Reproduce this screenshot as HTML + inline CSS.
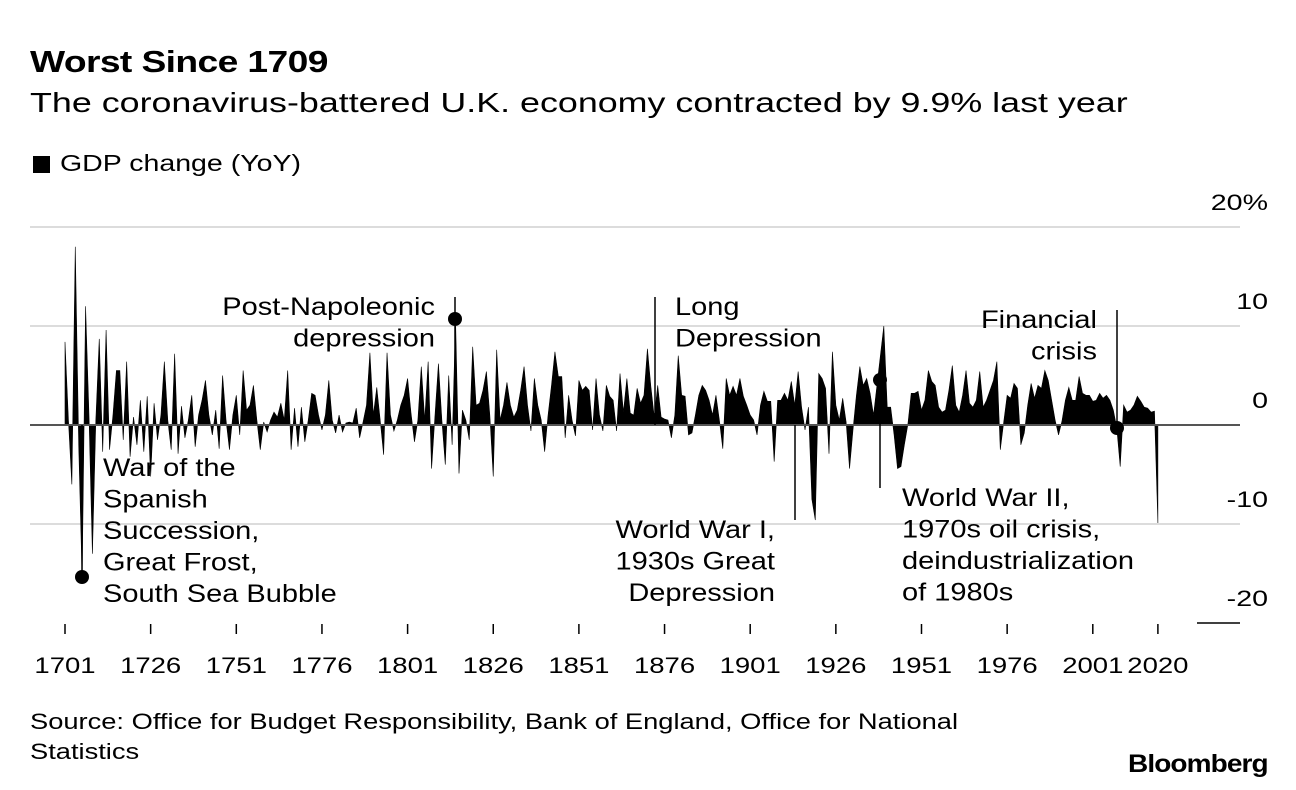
<!DOCTYPE html>
<html><head><meta charset="utf-8">
<style>
body{margin:0;background:#fff;font-family:"Liberation Sans",Arial,sans-serif;color:#000;}
#wrap{position:relative;width:1296px;height:790px;overflow:hidden;}
.t{position:absolute;white-space:nowrap;transform-origin:left top;}
</style></head>
<body>
<div id="wrap">
<div class="t" style="left:30px;top:44px;font-size:31px;font-weight:bold;letter-spacing:-0.5px;transform:scaleX(1.2);">Worst Since 1709</div>
<div class="t" style="left:30px;top:87px;font-size:28px;transform:scaleX(1.28);">The coronavirus-battered U.K. economy contracted by 9.9% last year</div>
<div style="position:absolute;left:33px;top:156px;width:17px;height:17px;background:#000;"></div>
<div class="t" style="left:60px;top:150px;font-size:23px;transform:scaleX(1.24);">GDP change (YoY)</div>
<svg id="chart" width="1296" height="790" style="position:absolute;left:0;top:0;"></svg>
<div class="t" style="left:30px;top:707px;font-size:22px;line-height:30px;transform:scaleX(1.24);">Source: Office for Budget Responsibility, Bank of England, Office for National<br>Statistics</div>
<div class="t" style="left:1128px;top:750px;font-size:25px;font-weight:bold;letter-spacing:-0.8px;transform:scaleX(1.12);">Bloomberg</div>
</div>
<script>
const startYear = 1701;
const gdpChange = [
8.4,0.5,-6,18,-2,-15.5,12,1,-13,0.5,8.7,-2.7,9.6,-2.5,1,5.5,5.5,-1.5,6.4,-3.2,
0.8,-2,2.5,-2.7,2.9,-5.2,2.2,-1.5,1,6.4,0.5,-2.5,7.2,-2.9,1.9,-1.3,0.5,3,-2.2,1,
2.5,4.5,1,-1,1.5,-2.4,5,0.5,-2.5,1,3,-1,5.5,1.5,2,4,0.5,-2.5,0.3,-0.7,
0.5,1.3,0.8,2.2,0.5,5.5,-2.5,1.7,-2.2,1.8,-1.7,0.5,3.2,3,1,-0.5,1,4.5,0.5,-0.8,
1,-0.7,0.2,0.3,0.2,1.7,-1.3,0.3,2,7.3,1,3.8,0.5,-3,7.3,1,-0.6,0.5,2,3,
4.7,1.2,-1.7,0.5,5.9,0.5,6.4,-4.4,1,6.2,0.5,-4,5,-2,10.6,-4.9,1.5,0.5,-1.5,7.9,
2,2.2,3.5,5.4,1,-5.2,7.6,0.5,2,4.3,2,0.8,1.5,3.5,5.9,2,-0.6,4.7,2,0.5,
-2.7,1,4,7.4,4.9,4.9,-1.3,3,0.5,-1.1,4.5,3.5,3.9,3.5,-0.5,4.7,1,-0.6,4,2.9,
2.5,-0.6,5.2,1.3,4.7,1.2,1,3.7,2.2,3,7.7,3.9,0.8,4,0.8,0.6,0.5,-1.3,1,7,
3,2.9,-1,-0.8,1,3,4,3.5,2.5,1,3,0.5,-2.4,4.7,3,3.9,3,4.7,2.9,2,
1,0.5,-1,2,3.4,2.4,2.4,-3.7,2.5,2.5,3.2,2.5,4.4,2,5.4,1.8,-0.5,1.8,-7.5,-9.6,
5.2,4.7,3.7,-2.9,7.4,2,0.5,2.7,0.3,-4.4,-0.5,3,5.9,4,4.7,3.2,1,4,7,10,
1.8,1.8,-1,-4.4,-4.2,-2,0,3.2,3.2,3.4,1.5,2.5,5.5,4.4,4,1.8,1.3,1.5,3.5,6,
2,1.3,3,5.5,2.2,1.8,2.5,5.4,1.8,2.5,3.5,4.5,6.4,-2.5,0.3,3,2.7,4.2,3.7,-2,
-0.8,2,4.2,2.7,4,3.7,5.5,4.5,2.5,0.5,-1,0.4,2.5,3.8,2.5,2.5,4.9,3.2,3,3,
2.4,2.5,3.2,2.7,3,2.5,1.5,-0.3,-4.2,2,1.3,1.5,2,2.9,2.4,1.8,1.7,1.3,1.4,-9.9
];
const yTicks = [20,10,0,-10,-20];
const yTickLabels = ["20%","10","0","-10","-20"];
const xTickYears = [1701,1726,1751,1776,1801,1826,1851,1876,1901,1926,1951,1976,2001,2020];

const NS = "http://www.w3.org/2000/svg";
const svg = document.getElementById("chart");
const x = yr => 65 + (yr - 1701) * 3.426;
const y = v => 425 - v * 9.9;
function mk(tag, attrs, parent){
  const e = document.createElementNS(NS, tag);
  for (const k in attrs) e.setAttribute(k, attrs[k]);
  (parent || svg).appendChild(e);
  return e;
}
function sx(px, py, s){ return "translate(" + px + "," + py + ") scale(" + s + ",1) translate(" + (-px) + "," + (-py) + ")"; }
// gridlines
yTicks.forEach((t, i) => {
  let g;
  if (t === -20) {
    g = mk("line", {x1:1197, x2:1240, y1:y(t), y2:y(t), stroke:"#000", "stroke-width":1.5});
  } else if (t === 0) {
    g = null;
  } else {
    g = mk("line", {x1:30, x2:1240, y1:y(t), y2:y(t), stroke:"#dcdcdc", "stroke-width":2});
  }
  if (g) {
    
    
  }
  const lab = mk("text", {x:1268, y:y(t) - 17, "text-anchor":"end", "font-size":22, "font-family":"Liberation Sans, sans-serif", transform:sx(1268, y(t) - 17, 1.3)});
  lab.textContent = yTickLabels[i];
  
  
});
// area
let d = "M" + x(startYear) + "," + y(0);
gdpChange.forEach((v, i) => { d += " L" + x(startYear + i).toFixed(2) + "," + y(v).toFixed(2); });
d += " L" + x(startYear + gdpChange.length - 1) + "," + y(0) + " Z";
const area = mk("path", {d:d, fill:"#000", stroke:"#000", "stroke-width":0.6, "stroke-linejoin":"miter"});


// zero line
const zl = mk("line", {x1:30, x2:1240, y1:y(0), y2:y(0), stroke:"#555", "stroke-width":2});


// x ticks
xTickYears.forEach(yr => {
  const tk = mk("line", {x1:x(yr), x2:x(yr), y1:624, y2:634, stroke:"#000", "stroke-width":1.5});
  
  
  const tl = mk("text", {x:x(yr), y:673, "text-anchor":"middle", "font-size":22, "font-family":"Liberation Sans, sans-serif", transform:sx(x(yr), 673, 1.25)});
  tl.textContent = yr;
  
  
});
// annotations
function annLine(x1, y1, y2){
  const l = mk("line", {x1:x1, x2:x1, y1:y1, y2:y2, stroke:"#000", "stroke-width":1.5});
  
  
}
function dot(cx, cy, r){
  const c = mk("circle", {cx:cx, cy:cy, r:r || 7, fill:"#000"});
  
  
}
function label(lines, lx, ly, anchor, name){
  const t = mk("text", {x:lx, y:ly, "text-anchor":anchor, "font-size":25, "font-family":"Liberation Sans, sans-serif", transform:sx(lx, ly, 1.16)});
  
  
  lines.forEach((s, i) => {
    const ts = mk("tspan", {x:lx, dy: i === 0 ? 0 : 31.5}, t);
    ts.textContent = s;
  });
}
annLine(82, 425, 577); dot(82, 577);
annLine(455, 297, 425); dot(455, 319);
annLine(655, 297, 425); dot(655, 418, 5);
annLine(795, 425, 520);
annLine(880, 380, 488); dot(880, 380);
annLine(1117, 310, 428); dot(1117, 428);
label(["War of the","Spanish","Succession,","Great Frost,","South Sea Bubble"], 103, 476, "start", "annotation-spanish-succession");
label(["Post-Napoleonic","depression"], 435, 315, "end", "annotation-post-napoleonic");
label(["Long","Depression"], 675, 315, "start", "annotation-long-depression");
label(["World War I,","1930s Great","Depression"], 775, 538, "end", "annotation-wwi-depression");
label(["World War II,","1970s oil crisis,","deindustrialization","of 1980s"], 902, 506, "start", "annotation-wwii");
label(["Financial","crisis"], 1097, 328, "end", "annotation-financial-crisis");
</script>
</body></html>
